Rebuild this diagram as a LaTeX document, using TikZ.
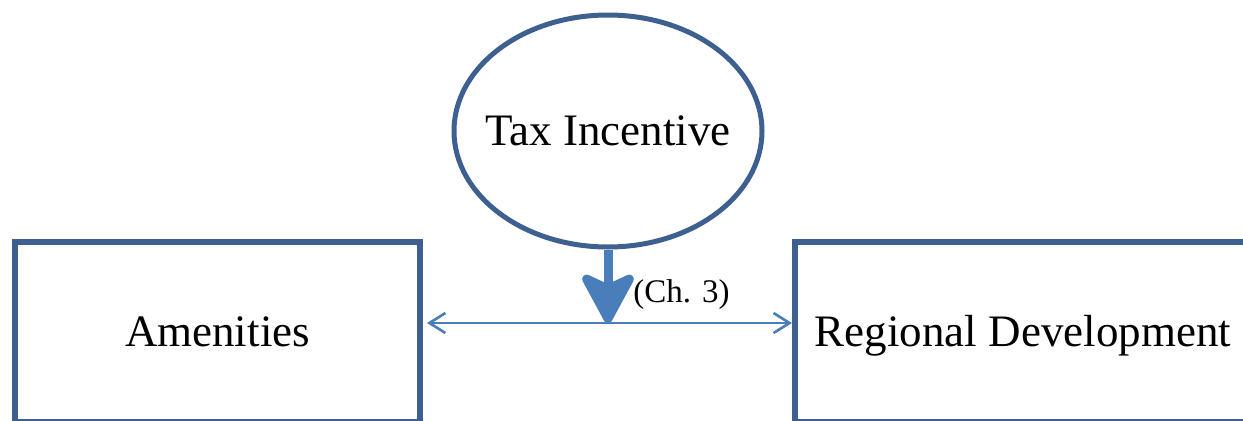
\documentclass[tikz,border=0pt]{standalone}
\usepackage{fontspec}
\setmainfont{Liberation Serif}
\usetikzlibrary{positioning,shapes.geometric,arrows.meta}
\definecolor{boxblue}{RGB}{61,96,145}
\definecolor{arrowblue}{RGB}{74,126,187}

\begin{document}
\begin{tikzpicture}[x=0.5pt,y=0.5pt,
squarebox/.style={rectangle, draw=boxblue, line width=3pt, minimum height=90pt, text height=14.9pt, text depth=0pt, font=\fontsize{22.5}{27}\selectfont},
ovalnode/.style={ellipse, draw=boxblue, line width=2.5pt, minimum width=154pt, minimum height=116pt, inner xsep=-10pt, inner ysep=0pt, text height=14.9pt, text depth=0pt, font=\fontsize{22.5}{27}\selectfont},
chnode/.style={inner sep=0pt, font=\fontsize{16.5}{20}\selectfont},
bigarrow/.style={draw=arrowblue, line width=4.5pt, -{Stealth[length=29pt, width=31pt, inset=7pt, round]}},
thinarrow/.style={draw=arrowblue, line width=1.3pt, {Straight Barb[length=8pt, width=10pt]}-{Straight Barb[length=8pt, width=10pt]}},
]
\useasboundingbox (0,0) rectangle (1243,420);
\clip (0,0) rectangle (1243,420);

%Nodes
\node[squarebox, minimum width=202.5pt] (amen)                          at (217.5,88) {Amenities};
\node[squarebox, minimum width=228pt]   (regdev) [right=184.5pt of amen]                {Regional Development};
\node[ovalnode]                         (tax)                           at (608,289)  {Tax Incentive};
\coordinate (lineL) at ([yshift=4.5pt]amen.east);
\coordinate (lineR) at ([yshift=4.5pt]regdev.west);
\node[chnode, anchor=west]              (ch3) at ([xshift=12.5pt,yshift=-22.75pt]tax.south) {(Ch. 3)};

%Lines
\draw[thinarrow] ([xshift=2pt]lineL) -- (lineR);
\draw[bigarrow] (tax.south) -- (tax.south |- lineL);
\end{tikzpicture}
\end{document}
